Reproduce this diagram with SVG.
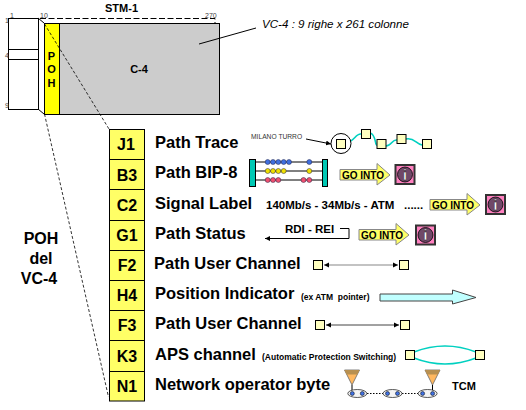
<svg xmlns="http://www.w3.org/2000/svg" width="526" height="410" viewBox="0 0 526 410">
<style>
text{font-family:"Liberation Sans",Arial,sans-serif;fill:#000}
.b{font-weight:700}
.t{font-size:16.500px;font-weight:700}
.c{font-size:16px;font-weight:700;text-anchor:middle}
.n{font-size:7px;fill:#444}
.s{fill:#ffffc0;stroke:#000;stroke-width:1}
.ln{fill:none;stroke:#000;stroke-width:1}
.dash{fill:none;stroke:#000;stroke-width:.8;stroke-dasharray:3 2}
.go{fill:#ffff66;stroke:#888;stroke-width:1}
.gt{font-size:10px;font-weight:700}
.pk{fill:#ff80c0;stroke:#333;stroke-width:2}
.ic{fill:#704868;stroke:#000;stroke-width:.8}
.iw{font-size:14px;font-weight:700;text-anchor:middle;fill:#fff;stroke:#000;stroke-width:.3}
.cy{fill:none;stroke:#00d0c0;stroke-width:1.600}
.m{font-size:6.700px;fill:#333}
.x{font-size:11.500px;font-weight:700}
.y{font-size:8.500px;font-weight:700;white-space:pre}
.pv{font-size:16px;font-weight:700;text-anchor:middle}
.h{font-size:11px;font-weight:700}
.hm{font-size:11px;font-weight:700;text-anchor:middle}
</style>
<defs>
<marker id="a" markerWidth="6" markerHeight="6" refX="5" refY="3" orient="auto-start-reverse" markerUnits="userSpaceOnUse"><path d="M0 .5L5 3L0 5.500z" fill="#000"/></marker>
<g id="go"><path class="go" d="M0 4.500H37V-1.500L50 10L37 20V15H0z"/><text class="gt" x="2" y="14">GO INTO</text></g>
<g id="inf"><rect class="pk" x="1" y="1" width="19" height="19"/><circle class="ic" cx="10.500" cy="10.500" r="7.500"/><text class="iw" x="10.500" y="15.500">i</text></g>
<g id="ov"><ellipse cx="0" cy="0" rx="9.500" ry="4" fill="#f4f4f4" stroke="#333" stroke-width=".8"/><circle cx="-5" cy="0" r="2" fill="#4070e0" stroke="#000" stroke-width=".5"/><circle cx="5" cy="0" r="2" fill="#4070e0" stroke="#000" stroke-width=".5"/></g>
<g id="tri"><path d="M0 0H15L7.500 15z" fill="#ffb860" stroke="#666" stroke-width=".8"/><path d="M0 0H15L12.800 4.500H2.200z" fill="#b89050"/></g>
</defs>

<g id="stm1">
<text class="h" x="105" y="12">STM-1</text>
<rect x="8.500" y="18.500" width="30" height="91" fill="#fff" stroke="#000"/>
<path class="ln" d="M8.500 49.500H38.500M8.500 59.500H38.500"/>
<text class="n" x="10" y="18">1</text><text class="n" x="40" y="18">10</text><text class="n" x="205" y="18">270</text><text class="n" x="5" y="23">1</text><text class="n" x="5" y="58">4</text><text class="n" x="5" y="108">9</text>
</g>
<g id="vc4">
<rect x="59.500" y="23.500" width="160" height="91" fill="#ccc" stroke="#000"/>
<rect x="44.500" y="23.500" width="15" height="91" fill="#ffff00" stroke="#000"/>
<text class="hm" x="51.500" y="59.500">P</text>
<text class="hm" x="51.500" y="73">O</text>
<text class="hm" x="51.500" y="87">H</text>
<text class="hm" x="139" y="73">C-4</text>
<text x="262" y="28" style="font-size:11.600px;font-style:italic">VC-4 : 9 righe x 261 colonne</text>
</g>
<g id="connectors">
<path class="ln" stroke-dasharray="6 2.500" d="M40 18.500H215V23"/>
<path class="ln" d="M38 18L44 23M38 109L44 114M199 44L256 28"/>
<path class="dash" d="M44.500 24L109 129M44.500 114L108.500 397"/>
<path class="ln" marker-end="url(#a)" d="M306 139L331 144"/>
<path class="cy" d="M346 143C354 142 356 133 361 134M370 133C376 134 375 146 377 145M386 146C392 146 392 139 397 140M406 139C414 137 416 144 422 145"/>
<path class="ln" marker-end="url(#a)" d="M340 228.500H349V238.500H265"/>
<path stroke="#888" stroke-width="1.200" marker-start="url(#a)" marker-end="url(#a)" d="M324 265H398"/>
<path stroke="#444" stroke-width="1" marker-start="url(#a)" marker-end="url(#a)" d="M326 325H399"/>
<path class="cy" d="M414 352Q445 340 476 352M414 358Q445 370 476 358"/>
<path stroke="#000" d="M352 385V391M432.500 385V391"/>
<path stroke="#000" stroke-dasharray="1.500 1.500" d="M367 393.500H383M402 393.500H418"/>
</g>

<g id="table">
<rect x="109.500" y="129.500" width="35" height="271.500" fill="#ffff66" stroke="#000"/>
<path class="ln" d="M109.500 159.500H144.500M109.500 189.500H144.500M109.500 220.500H144.500M109.500 250.500H144.500M109.500 280.500H144.500M109.500 310.500H144.500M109.500 340.500H144.500M109.500 371.500H144.500"/>
<text class="c" x="126" y="150">J1</text>
<text class="c" x="127" y="181">B3</text>
<text class="c" x="127" y="211">C2</text>
<text class="c" x="127" y="241">G1</text>
<text class="c" x="127" y="271">F2</text>
<text class="c" x="127" y="301">H4</text>
<text class="c" x="127" y="331">F3</text>
<text class="c" x="127" y="362">K3</text>
<text class="c" x="127" y="392">N1</text>
</g>
<g id="labels">
<text class="t" x="155" y="148">Path Trace</text>
<text class="t" x="155" y="178">Path BIP-8</text>
<text class="t" x="155" y="209">Signal Label</text>
<text class="t" x="155" y="239">Path Status</text>
<text class="t" x="154" y="269">Path User Channel</text>
<text class="t" x="155" y="299">Position Indicator</text>
<text class="y" x="301" y="300">(ex ATM  pointer)</text>
<text class="t" x="155" y="329">Path User Channel</text>
<text class="t" x="155" y="360">APS channel</text>
<text class="y" x="262" y="360">(Automatic Protection Switching)</text>
<text class="t" x="155" y="390">Network operator byte</text>
<text class="pv" x="41" y="244">POH</text>
<text class="pv" x="41" y="264">del</text>
<text class="pv" x="39" y="284">VC-4</text>
<text class="m" x="251" y="139">MILANO TURRO</text>
<text class="x" x="266" y="209">140Mb/s - 34Mb/s - ATM</text>
<text class="x" x="404" y="209">......</text>
<text class="x" x="285" y="233">RDI - REI</text>
<text class="h" x="452" y="390">TCM</text>
</g>

<g id="trace">
<circle cx="341" cy="143.500" r="10" fill="#fff" stroke="#000"/>
<rect class="s" x="336.500" y="139.500" width="9" height="9"/>
<rect class="s" x="361.500" y="129.500" width="9" height="9"/>
<rect class="s" x="377" y="139.500" width="9" height="9"/>
<rect class="s" x="397" y="134.500" width="9" height="9"/>
<rect class="s" x="422.500" y="139.500" width="9" height="9"/>
</g>
<g id="abacus">
<rect x="249.500" y="159.500" width="6" height="27" fill="#00c8b4" stroke="#000"/>
<rect x="322.500" y="159.500" width="5" height="27" fill="#00c8b4" stroke="#000"/>
<path class="ln" d="M255 162H322M255 171H322M255 180H322"/>
<g fill="#4070e0" stroke="#224" stroke-width=".5"><circle cx="267.700" cy="162" r="2.500"/><circle cx="273" cy="162" r="2.500"/><circle cx="278.300" cy="162" r="2.500"/><circle cx="283.700" cy="162" r="2.500"/><circle cx="289" cy="162" r="2.500"/><circle cx="309.300" cy="162" r="2.500"/></g>
<g fill="#f0e000" stroke="#224" stroke-width=".5"><circle cx="267.700" cy="171" r="2.500"/><circle cx="273" cy="171" r="2.500"/><circle cx="278.300" cy="171" r="2.500"/><circle cx="283.700" cy="171" r="2.500"/><circle cx="309.300" cy="171" r="2.500"/></g>
<g fill="#f05070" stroke="#224" stroke-width=".5"><circle cx="267.700" cy="180" r="2.500"/><circle cx="273" cy="180" r="2.500"/><circle cx="278.300" cy="180" r="2.500"/><circle cx="303.500" cy="180" r="2.500"/><circle cx="309.300" cy="180" r="2.500"/></g>
</g>
<g id="go1"><use href="#go" transform="translate(340,165)"/><use href="#inf" transform="translate(394.500,164)"/></g>
<g id="go2"><use href="#go" transform="translate(430,195)"/><use href="#inf" transform="translate(485,194)"/></g>
<g id="go3"><use href="#go" transform="translate(359,225)"/><use href="#inf" transform="translate(415,224.500)"/></g>
<g id="f2"><rect class="s" x="313.500" y="260.500" width="9" height="9"/><rect class="s" x="399.500" y="260.500" width="9" height="9"/></g>
<g id="h4"><path d="M380 294H452.500V290L476 297.500L452.500 304V301H380z" fill="#c0ffff" stroke="#444"/></g>
<g id="f3"><rect class="s" x="315.500" y="320.500" width="9" height="9"/><rect class="s" x="400.500" y="320.500" width="9" height="9"/></g>
<g id="k3"><rect class="s" x="405.500" y="350.500" width="9" height="9"/><rect class="s" x="475.500" y="350.500" width="9" height="9"/></g>
<g id="n1"><use href="#tri" transform="translate(344.500,370)"/><use href="#tri" transform="translate(425,370)"/><use href="#ov" transform="translate(357.300,393.500)"/><use href="#ov" transform="translate(392.500,393.500)"/><use href="#ov" transform="translate(427.600,393.500)"/></g>
</svg>
